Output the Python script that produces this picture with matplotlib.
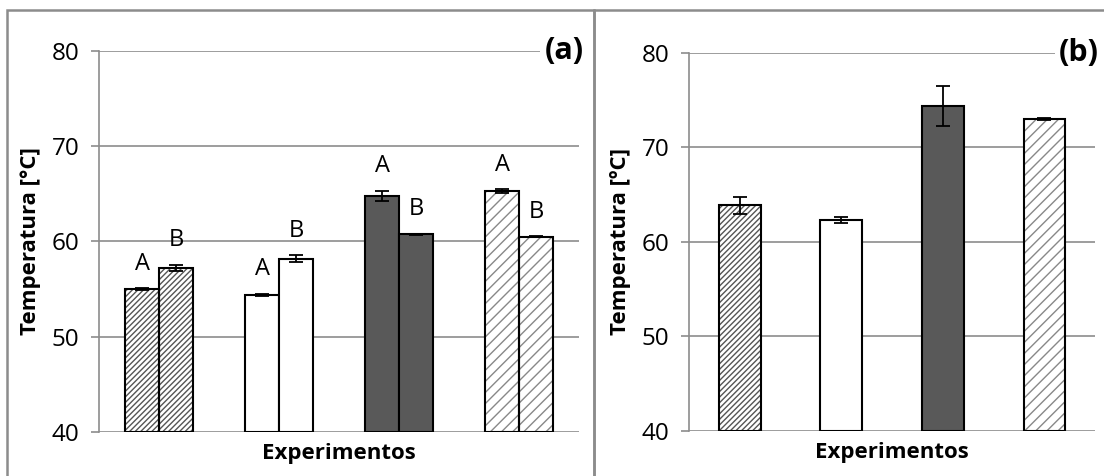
import numpy as np
import matplotlib.pyplot as plt
from matplotlib.patches import Rectangle

plt.rcParams['font.family'] = ['Open Sans', 'DejaVu Sans']

# panel (a): pairs A / B for four experiments
a_vals = [55.0, 54.4, 64.8, 65.3]
a_errs = [0.1, 0.1, 0.55, 0.2]
b_vals = [57.2, 58.2, 60.75, 60.5]
b_errs = [0.35, 0.33, 0.05, 0.05]
# panel (b)
p2_vals = [63.9, 62.3, 74.4, 73.0]
p2_errs = [0.9, 0.3, 2.1, 0.15]

letters = ['A', 'B']
ticks = [40, 50, 60, 70, 80]

GRID = '#8c8c8c'
# fill, hatch, hatch colour per experiment
styles = [('white', '//////', '#555555'),
          ('white', None, None),
          ('#595959', None, None),
          ('white', '///', '#888888')]

fig = plt.figure(figsize=(11.04, 4.76), dpi=100)
ax1 = fig.add_axes([0.0897, 0.0924, 0.4348, 0.8006])
ax2 = fig.add_axes([0.624, 0.0945, 0.368, 0.7945])

# panel frames
fig.add_artist(Rectangle((7/1104, -0.1), 587/1104, 1.1 - 10/476, transform=fig.transFigure,
                         fill=False, ec=GRID, lw=1.8))
fig.add_artist(Rectangle((594/1104, -0.1), 0.6, 1.1 - 10/476, transform=fig.transFigure,
                         fill=False, ec=GRID, lw=1.8))


def draw_bar(ax, x, h, err, w, st):
    fc, hatch, hc = st
    if hatch:
        ax.bar(x, h - 40, w, bottom=40, color=fc, hatch=hatch, edgecolor=hc, lw=0, zorder=2)
        ax.bar(x, h - 40, w, bottom=40, fill=False, edgecolor='black', lw=1.5, zorder=3)
    else:
        ax.bar(x, h - 40, w, bottom=40, color=fc, edgecolor='black', lw=1.5, zorder=3)
    ax.errorbar(x, h, yerr=err, fmt='none', ecolor='black', elinewidth=1.3,
                capsize=5, capthick=1.3, zorder=4)


def style_axes(ax, label, ylab):
    ax.set_ylim(40, 80)
    ax.set_yticks(ticks)
    ax.grid(axis='y', color=GRID, lw=1.2, zorder=0)
    for s in ['top', 'right', 'bottom']:
        ax.spines[s].set_visible(False)
    ax.spines['left'].set_color(GRID)
    ax.spines['left'].set_linewidth(1.2)
    ax.tick_params(axis='y', length=6, width=1.2, color=GRID, labelsize=17.5, pad=8)
    ax.set_xticks([])
    ax.set_xlabel('Experimentos', fontsize=16, fontweight='bold', labelpad=8)
    ax.set_ylabel(ylab, fontsize=16, fontweight='bold', labelpad=8)
    ax.text(1.01, 1.0, label, transform=ax.transAxes, ha='right', va='center',
            fontsize=22, fontweight='bold', zorder=5,
            bbox=dict(facecolor='white', edgecolor='none', pad=3))


# panel (a)
bw = 0.283
x = np.arange(4)
for i in range(4):
    for j, (v, e) in enumerate([(a_vals[i], a_errs[i]), (b_vals[i], b_errs[i])]):
        xi = x[i] + (j - 0.5) * bw
        draw_bar(ax1, xi, v, e, bw, styles[i])
        ax1.annotate(letters[j], (xi, v + e), xytext=(0, 9), textcoords='offset points',
                     ha='center', va='bottom', fontsize=17)
ax1.set_xlim(-0.5, 3.5)
style_axes(ax1, '(a)', 'Temperatura [°C]')

# panel (b)
for i in range(4):
    draw_bar(ax2, x[i], p2_vals[i], p2_errs[i], 0.41, styles[i])
ax2.set_xlim(-0.5, 3.5)
style_axes(ax2, '(b)', 'Temperatura [ºC]')

fig.savefig('out.png', dpi=100)
